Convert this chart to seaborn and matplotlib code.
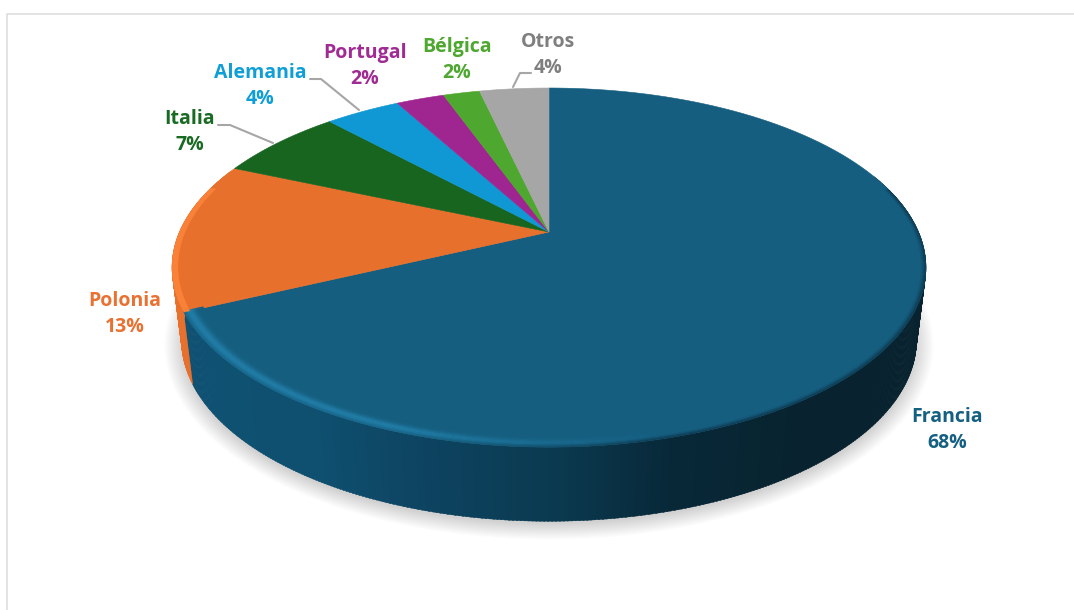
import numpy as np
import matplotlib
matplotlib.use("Agg")
import matplotlib.pyplot as plt
from matplotlib.patches import Ellipse
from matplotlib.path import Path
from matplotlib.transforms import Affine2D, Transform
import seaborn as sns

# values
regions = ["Francia", "Polonia", "Italia", "Alemania", "Portugal", "Bélgica", "Otros"]
shares = [68, 13.5, 6.6, 3.9, 2.5, 1.9, 3.6]
printed_pct = [68, 13, 7, 4, 2, 2, 4]

slice_colors = ["#155E80", "#E8702D", "#186520", "#0F98D4", "#9F2690", "#4EA72E", "#A6A6A6"]
text_colors = ["#156082", "#E97132", "#196B24", "#0F9ED5", "#A02B93", "#4EA72E", "#7F7F7F"]
label_pos = [(947, 416), (125, 300), (190, 118), (260, 72), (365, 52), (457, 46), (548, 41)]

sns.set_theme(style="white")
plt.rcParams["font.family"] = ["Open Sans", "DejaVu Sans"]

# tilted disc: unit circle -> pixels
CX, CY = 549, 232
A, B, K = 369.5, 172.5, 0.198


def project(pts, shrink=1.0, drop=0.0):
    pts = np.asarray(pts, dtype=float)
    w = 1 + K * pts[:, 1]
    sx = CX + shrink * A * pts[:, 0] / w
    sy = CY + drop - B * pts[:, 1] / w
    return np.column_stack([sx, sy])


class Tilt(Transform):
    input_dims = 2
    output_dims = 2
    is_affine = False

    def transform_non_affine(self, values):
        return project(values)

    def transform_path_non_affine(self, path):
        # flatten the arcs first, bezier handles do not survive the tilt
        big = path.transformed(Affine2D().scale(1000))
        poly = big.to_polygons(closed_only=False)[0] / 1000
        return Path(project(poly))


def circle(t_deg, r=1.0):
    # t measured clockwise from 12 o'clock, like the slices
    t = np.radians(t_deg)
    return np.column_stack([r * np.sin(t), r * np.cos(t)])


fig, ax = plt.subplots(figsize=(10.74, 6.1), dpi=100)
fig.subplots_adjust(0, 0, 1, 1)

wedges, _ = ax.pie(shares, colors=slice_colors, startangle=90, counterclock=False,
                   wedgeprops=dict(linewidth=0.4, zorder=3))
for (w, c) in zip(wedges, slice_colors):
    w.set_edgecolor(c)
    w.set_transform(Tilt() + ax.transData)
    w.set_clip_on(False)

ax.set_aspect("auto")
ax.set_xlim(0, 1074)
ax.set_ylim(610, 0)
ax.axis("off")

# frame of the original slide
ax.plot([7, 7, 1074], [610, 14, 14], color="#DEDEDE", lw=1.2, zorder=0)

# soft shadow under the disc
for i in range(16):
    ax.add_patch(Ellipse((549, 345), 2 * (365 + i * 1.3), 2 * (178 + i * 1.1),
                         color="#555555", alpha=0.014, lw=0, zorder=1))

# side wall, built from the slice limits
limits = np.cumsum(shares) * 3.6
wall_blue = sns.blend_palette(["#0F5172", "#0F5070", "#0D4360", "#0B3A50", "#082838", "#08232F", "#08232F"], 260)
for t in np.arange(70, 292, 0.5):
    pair = np.array([t, t + 0.7])
    up = project(circle(pair))
    down = project(circle(pair), shrink=0.975, drop=72)
    down[:, 1] = 304 + (down[:, 1] - 304) * 1.01
    poly = np.vstack([up, down[::-1]])
    if t < limits[0]:
        frac = np.clip((up[0, 0] - 185) / 740, 0, 0.999)
        col = wall_blue[int(frac * 260)]
    else:
        col = slice_colors[1]
    ax.fill(poly[:, 0], poly[:, 1], color=col, lw=0.3, zorder=2)

# rim: highlight at lower left, dark blur at lower right
base = np.array(matplotlib.colors.to_rgb(slice_colors[0]))
light = np.array(matplotlib.colors.to_rgb("#2483AE"))
dark = np.array(matplotlib.colors.to_rgb("#0B2F42"))
radii = np.linspace(0.95, 1.0, 13)
for t in np.arange(75, limits[0], 0.5):
    pair = np.array([t, t + 0.7])
    # how much of the highlight shows at this angle
    glow = np.clip((t - 165) / 35, 0, 1)
    for r0, r1 in zip(radii[:-1], radii[1:]):
        rm = (r0 + r1) / 2
        a_light = np.exp(-((rm - 0.985) / 0.013) ** 2) * glow * 0.85
        a_dark = np.clip((rm - 0.985) / 0.015, 0, 1) ** 1.5 * (1 - glow) * 0.8
        col = base * (1 - a_light - a_dark) + light * a_light + dark * a_dark
        poly = np.vstack([project(circle(pair, r1)), project(circle(pair, r0))[::-1]])
        ax.fill(poly[:, 0], poly[:, 1], color=col, lw=0.2, zorder=4)

# lighter lip on the orange slice
for t in np.arange(limits[0], 285, 0.5):
    pair = np.array([t, t + 0.7])
    poly = np.vstack([project(circle(pair, 1.0)), project(circle(pair, 0.985))[::-1]])
    ax.fill(poly[:, 0], poly[:, 1], color="#FA8238", lw=0.2, zorder=4)

# leader lines
leaders = [([218, 230, 273], [125, 125, 143]),
           ([310, 321, 359], [79, 79, 110]),
           ([531, 520, 513], [73, 73, 87])]
for xs, ys in leaders:
    sns.lineplot(x=xs, y=ys, color="#A6A6A6", lw=1.5, sort=False, estimator=None, ax=ax, zorder=5)

for name, pct, col, (x, y) in zip(regions, printed_pct, text_colors, label_pos):
    ax.text(x, y + 1, name, color=col, fontsize=14, fontweight="bold", ha="center", va="center", zorder=6)
    ax.text(x, y + 27, f"{pct}%", color=col, fontsize=14, fontweight="bold", ha="center", va="center", zorder=6)

ax.set_xlim(0, 1074)
ax.set_ylim(610, 0)
fig.savefig("out.png", dpi=100, facecolor="white")
